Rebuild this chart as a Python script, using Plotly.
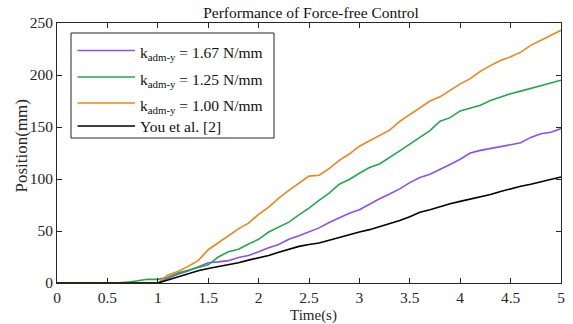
import plotly.graph_objects as go

t = [round(i * 0.1, 1) for i in range(51)]

k167 = [0, 0, 0, 0, 0, 0, 0, 0, 0, 0, 0,
        4.5, 8.5, 11.5, 15.5, 19.5, 20.3, 21.5, 24.5, 26.5, 30,
        34, 37, 42, 45.5, 49, 53, 58.2, 63, 67, 70.5,
        76, 81, 85.5, 90.5, 96.5, 101.5, 104.5, 109, 114, 119,
        125, 127.5, 129.5, 131.5, 133.5, 134.8, 140, 143.5, 145, 148.5]

k125 = [0, 0, 0, 0, 0, 0, 0, 0.8, 2.5, 3.6, 3.5,
        5.5, 9.5, 12.5, 15, 17.5, 25, 30, 32.5, 37.5, 42,
        49, 53.5, 58.5, 65.5, 72, 79.5, 86.5, 95, 99.5, 105.5,
        111, 114.5, 120.5, 127, 133.5, 140, 146.5, 155.5, 159, 165.5,
        168, 171, 175.5, 179, 182, 184.5, 187, 190, 192.5, 195]

k100 = [0, 0, 0, 0, 0, 0, 0, 0, 0, 0, 0,
        7.8, 11, 16, 21.5, 32, 38.5, 45, 52, 57.5, 66,
        73, 81.5, 89, 96, 102.8, 103.6, 110, 118, 124, 131.5,
        136.5, 141.5, 147, 155.5, 162, 168.5, 175, 179, 185.5, 191.5,
        196.5, 203.5, 209, 214, 217.5, 222, 228.5, 233.5, 238, 243]

you = [0, 0, 0, 0, 0, 0, 0, 0, 0, 0, 0,
       2.8, 6, 9, 11.8, 14, 15.8, 17.3, 19.5, 22, 24,
       26.5, 29.5, 32.5, 35.2, 37, 38.5, 41.2, 44, 46.5, 49,
       51.3, 54.3, 57, 60, 63.8, 68, 70.5, 73.5, 76.3, 78.5,
       80.5, 82.5, 85, 88, 90.8, 93, 95, 97.5, 100, 102]

names = ["k<sub>adm-y</sub> = 1.67 N/mm", "k<sub>adm-y</sub> = 1.25 N/mm",
         "k<sub>adm-y</sub> = 1.00 N/mm", "You et al. [2]"]
colors = ["#8c4ff0", "#22a94b", "#f0841a", "#000000"]
series = [k167, k125, k100, you]

font = "Liberation Serif, Times New Roman, serif"
axc = "#262626"

fig = go.Figure()
for ys, nm, c in zip(series, names, colors):
    fig.add_trace(go.Scatter(x=t, y=ys, mode="lines", name=nm, showlegend=False,
                             line=dict(color=c, width=1.6)))

# plot area in pixels: left 57, right 561, top 23, bottom 283
L, R, T, B = 57.0, 561.0, 23.0, 283.0
def px(xp):
    return (xp - L) / (R - L)
def py(yp):
    return (B - yp) / (B - T)

shapes = [dict(type="rect", xref="paper", yref="paper",
               x0=px(71), x1=px(274), y0=py(138), y1=py(33),
               line=dict(color=axc, width=1), fillcolor="white", layer="above")]
annotations = []
entry_y = [50.5, 77, 103, 126]
for nm, c, ey in zip(names, colors, entry_y):
    shapes.append(dict(type="line", xref="paper", yref="paper",
                       x0=px(77.5), x1=px(135), y0=py(ey), y1=py(ey),
                       line=dict(color=c, width=1.6), layer="above"))
    has_sub = "<sub>" in nm
    annotations.append(dict(xref="paper", yref="paper", x=px(138), y=py(ey + (3 if has_sub else 0)),
                            xanchor="left", yanchor="middle", text=nm, showarrow=False,
                            font=dict(family=font, size=15.5, color="#111")))

# axis titles placed as annotations
annotations.append(dict(xref="paper", yref="paper", x=px(313), y=py(315.5),
                        xanchor="center", yanchor="middle", text="Time(s)", showarrow=False,
                        font=dict(family=font, size=15, color=axc)))
annotations.append(dict(xref="paper", yref="paper", x=px(20.5), y=py(146),
                        xanchor="center", yanchor="middle", text="Position(mm)", showarrow=False,
                        textangle=-90, font=dict(family=font, size=17, color=axc)))

axis_common = dict(showline=True, linecolor=axc, linewidth=1, mirror="ticks",
                   ticks="inside", ticklen=5, tickcolor=axc, showgrid=False, automargin=False,
                   zeroline=False, tickfont=dict(family=font, size=15.5, color=axc))
fig.update_layout(
    width=573, height=324,
    margin=dict(l=57, r=12, t=23, b=41),
    paper_bgcolor="white", plot_bgcolor="white",
    title=dict(text="Performance of Force-free Control", xref="paper", x=0.504, xanchor="center",
               yref="container", y=0.96, yanchor="middle",
               font=dict(family=font, size=15.5, color="#111")),
    xaxis=dict(range=[0, 5], tickvals=[0, 0.5, 1, 1.5, 2, 2.5, 3, 3.5, 4, 4.5, 5],
               ticktext=["0", "0.5", "1", "1.5", "2", "2.5", "3", "3.5", "4", "4.5", "5"],
               **axis_common),
    yaxis=dict(range=[0, 250], tickvals=[0, 50, 100, 150, 200, 250],
               **axis_common),
    shapes=shapes,
    annotations=annotations,
    showlegend=False,
)
fig.write_html("out.html")
